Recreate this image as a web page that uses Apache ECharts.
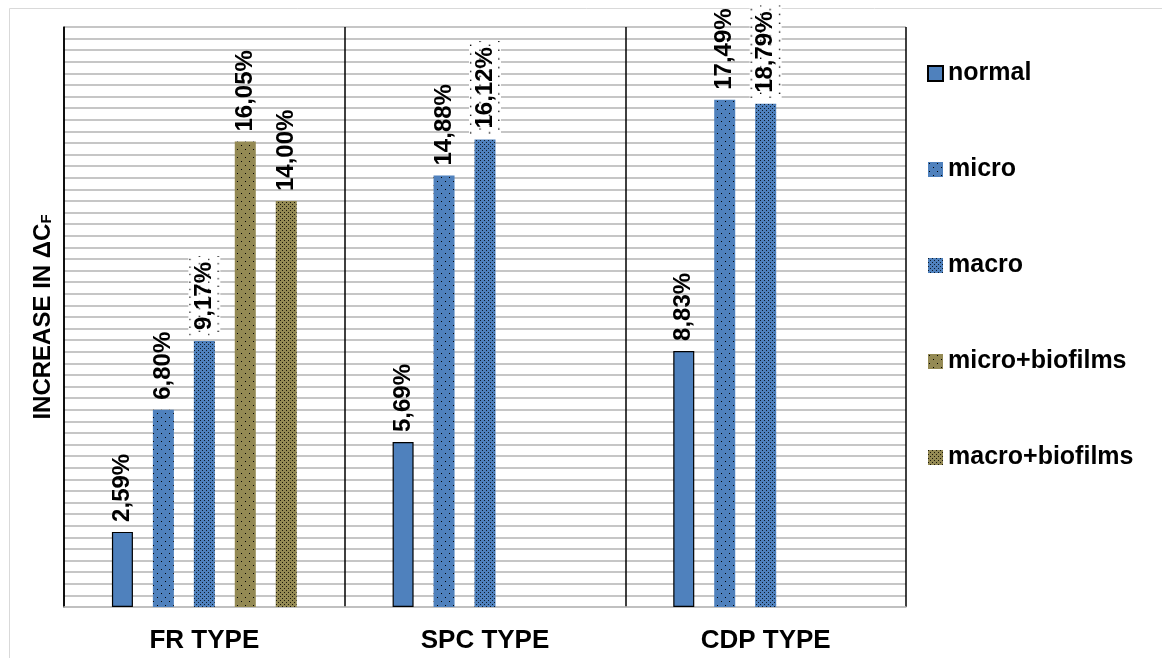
<!DOCTYPE html>
<html>
<head>
<meta charset="utf-8">
<script src="https://cdn.jsdelivr.net/npm/echarts@6/dist/echarts.min.js"></script>
<style>
  html, body { margin: 0; padding: 0; background: #fff; }
  #chart { width: 1162px; height: 658px; }
</style>
</head>
<body>
<div id="chart"></div>
<script>
// ---- data ----
const categories = ['FR TYPE', 'SPC TYPE', 'CDP TYPE'];
const seriesNames = ['normal', 'micro', 'macro', 'micro+biofilms', 'macro+biofilms'];
const normalValues = [2.59, 5.69, 8.83];
const microValues = [6.80, 14.88, 17.49];
const macroValues = [9.17, 16.12, 17.35];           // drawn bar heights
const microBioValues = [16.05, null, null];
const macroBioValues = [14.00, null, null];
const normalLabels = ['2,59%', '5,69%', '8,83%'];
const microLabels = ['6,80%', '14,88%', '17,49%'];
const macroLabels = ['9,17%', '16,12%', '18,79%'];
const microBioLabels = ['16,05%', '', ''];
const macroBioLabels = ['14,00%', '', ''];
const yMax = 20;
const yInterval = 0.4;

// ---- styles ----
const BLUE = '#4F81BD';
const OLIVE = '#948A54';
const FONT = "'Liberation Sans', Arial, sans-serif";

function pattern(bg, step, dots, dotColor) {
  const c = document.createElement('canvas');
  c.width = step; c.height = step;
  const ctx = c.getContext('2d');
  ctx.fillStyle = bg; ctx.fillRect(0, 0, step, step);
  ctx.fillStyle = dotColor || '#000';
  dots.forEach(function (d) { ctx.fillRect(d[0], d[1], 1, 1); });
  return { image: c, repeat: 'repeat' };
}
const microBlue = pattern(BLUE, 8, [[1, 1], [5, 5]]);
const macroBlue = pattern(BLUE, 4, [[0, 0], [2, 2]], '#0d1a2a');
const microOlive = pattern(OLIVE, 8, [[1, 1], [5, 5]]);
const macroOlive = pattern(OLIVE, 4, [[0, 0], [2, 2]], '#1a1708');

// dotted white background for the macro labels
const bgCanvas = (function () {
  const c = document.createElement('canvas');
  c.width = 96; c.height = 34;
  const ctx = c.getContext('2d');
  ctx.fillStyle = '#fff'; ctx.fillRect(0, 0, 96, 34);
  ctx.fillStyle = '#000';
  for (let x = 1; x < 96; x += 9) {
    for (let y = 1; y < 34; y += 10) {
      ctx.fillRect(x + ((Math.floor(y / 10) % 2) ? 4 : 0), y, 1.4, 1.4);
    }
  }
  return c;
})();

function labelCfg(texts, withBg) {
  const cfg = {
    show: true,
    position: 'top',
    rotate: 90,
    align: 'left',
    verticalAlign: 'middle',
    distance: withBg ? 5 : 10,
    color: '#000',
    fontFamily: FONT,
    fontWeight: 'bold',
    fontSize: 24,
    formatter: function (p) { return texts[p.dataIndex]; }
  };
  if (withBg) {
    cfg.backgroundColor = { image: bgCanvas };
    cfg.padding = [4, 6, 4, 6];
  }
  return cfg;
}

function barSeries(name, values, color, texts, withBg, border) {
  return {
    name: name,
    type: 'bar',
    data: values,
    barWidth: 21,
    barGap: '95%',
    itemStyle: {
      color: color,
      borderColor: border ? '#000' : 'transparent',
      borderWidth: border ? 1.2 : 0
    },
    label: labelCfg(texts, withBg),
    emphasis: { disabled: true }
  };
}

const chart = echarts.init(document.getElementById('chart'), null, { renderer: 'canvas' });
chart.setOption({
  animation: false,
  backgroundColor: '#fff',
  graphic: [{
    type: 'rect',
    shape: { x: 9.5, y: 8.5, width: 1200, height: 700 },
    style: { fill: 'none', stroke: '#d9d9d9', lineWidth: 1 },
    silent: true,
    z: -10
  }],
  grid: { left: 64, right: 256, top: 27, bottom: 51, containLabel: false },
  legend: {
    orient: 'vertical',
    left: 927,
    top: 61,
    padding: 0,
    itemWidth: 15,
    itemHeight: 15,
    itemGap: 71,
    icon: 'rect',
    data: seriesNames,
    textStyle: { fontFamily: FONT, fontWeight: 'bold', fontSize: 25, color: '#000' },
    selectedMode: false
  },
  xAxis: {
    type: 'category',
    data: categories,
    axisLine: { show: true, lineStyle: { color: '#bfbfbf', width: 1.5 } },
    axisTick: { show: false },
    splitLine: { show: true, lineStyle: { color: '#000', width: 1.5 } },
    axisLabel: { fontFamily: FONT, fontWeight: 'bold', fontSize: 26, color: '#000', margin: 21 }
  },
  yAxis: {
    type: 'value',
    min: 0,
    max: yMax,
    interval: yInterval,
    axisLine: { show: true, lineStyle: { color: '#000', width: 1.5 } },
    axisTick: { show: false },
    axisLabel: { show: false },
    splitLine: { show: true, lineStyle: { color: '#b3b3b3', width: 1.5 } },
    name: 'INCREASE IN ΔC{sub|F}',
    nameLocation: 'middle',
    nameRotate: 90,
    nameGap: 9,
    nameTextStyle: {
      fontFamily: FONT, fontWeight: 'bold', fontSize: 24, color: '#000',
      rich: { sub: { fontFamily: FONT, fontWeight: 'bold', fontSize: 15, color: '#000', padding: [8, 0, 0, 0] } }
    }
  },
  series: [
    barSeries('normal', normalValues, BLUE, normalLabels, false, true),
    barSeries('micro', microValues, microBlue, microLabels, false, false),
    barSeries('macro', macroValues, macroBlue, macroLabels, true, false),
    barSeries('micro+biofilms', microBioValues, microOlive, microBioLabels, false, false),
    barSeries('macro+biofilms', macroBioValues, macroOlive, macroBioLabels, false, false)
  ]
});
</script>
</body>
</html>
